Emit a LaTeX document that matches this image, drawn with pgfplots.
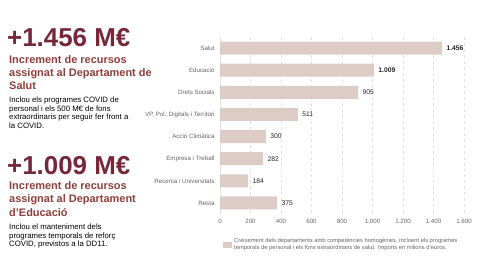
\documentclass[border=0pt]{standalone}
\usepackage{pgfplots}
\pgfplotsset{compat=1.18}
\usepackage{fontspec}
\setmainfont{Liberation Sans}
\definecolor{bignum}{RGB}{118,40,58}
\definecolor{subt}{RGB}{145,62,58}
\definecolor{barc}{RGB}{221,204,197}
\definecolor{tickc}{RGB}{100,100,100}
\definecolor{gridc}{RGB}{225,225,225}
\begin{document}
\begin{tikzpicture}
\useasboundingbox (0bp,0bp) rectangle (480bp,270bp);
% Block 1
\node[anchor=base west,inner sep=0,text=bignum,font=\fontsize{26}{28}\selectfont\bfseries] at (7bp,223bp) {+1.456 M€};
\begin{scope}[every node/.style={anchor=base west,inner sep=0,text=subt,font=\fontsize{11}{13}\selectfont\bfseries}]
\node at (9bp,206bp) {Increment de recursos};
\node at (9bp,193bp) {assignat al Departament de};
\node at (9bp,180bp) {Salut};
\end{scope}
\begin{scope}[every node/.style={anchor=base west,inner sep=0,font=\fontsize{7.8}{9}\selectfont}]
\node at (9bp,167bp) {Inclou els programes COVID de};
\node at (9bp,158.5bp) {personal i els 500 M€ de fons};
\node at (9bp,150bp) {extraordinaris per seguir fer front a};
\node at (9bp,141.5bp) {la COVID.};
\end{scope}
% Block 2
\node[anchor=base west,inner sep=0,text=bignum,font=\fontsize{26}{28}\selectfont\bfseries] at (7bp,95bp) {+1.009 M€};
\begin{scope}[every node/.style={anchor=base west,inner sep=0,text=subt,font=\fontsize{11}{13}\selectfont\bfseries}]
\node at (9bp,80bp) {Increment de recursos};
\node at (9bp,67bp) {assignat al Departament};
\node at (9bp,53.5bp) {d’Educació};
\end{scope}
\begin{scope}[every node/.style={anchor=base west,inner sep=0,font=\fontsize{7.8}{9}\selectfont}]
\node at (9bp,40bp) {Inclou el manteniment dels};
\node at (9bp,32bp) {programes temporals de reforç};
\node at (9bp,24bp) {COVID, previstos a la DD11.};
\end{scope}
\begin{axis}[
  at={(220bp,56bp)}, anchor=south west,
  scale only axis, width=244bp, height=177bp,
  xmin=0, xmax=1600, ymin=-0.5, ymax=7.5,
  y dir=reverse,
  xbar, bar width=13bp,
  axis lines*=left,
  x axis line style={draw=none},
  y axis line style={draw=gridc, line width=0.8pt},
  xtick={0,200,...,1600},
  xticklabels={0,200,400,600,800,1.000,1.200,1.400,1.600},
  ytick={0,...,7},
  yticklabels={Salut,Educació,Drets Socials,{VP, Pol. Digitals i Territori},Acció Climàtica,Empresa i Treball,Recerca i Universitats,Resta},
  major tick length=0pt,
  xmajorgrids, grid style={gridc, dashed, line width=0.4pt},
  tick label style={text=tickc, font=\fontsize{6.2}{7}\selectfont},
  /pgf/number format/assume math mode=true,
  xticklabel style={yshift=-2bp},
  yticklabel style={xshift=-2bp},
  clip=false,
  point meta=explicit symbolic,
  nodes near coords,
  nodes near coords style={font=\fontsize{6.8}{7}\selectfont, text=black!85, anchor=west, xshift=1bp},
  legend style={at={(0.0,-0.175)}, anchor=west, draw=none, fill=none, font=\fontsize{5.8}{7}\selectfont, text=tickc, cells={align=left}},
  legend image code/.code={\fill[barc] (0bp,-3bp) rectangle (9bp,3bp);},
]
\addplot[fill=barc, draw=none] coordinates {
 (1456,0) [\textbf{1.456}]
 (1009,1) [\textbf{1.009}]
 (905,2) [905]
 (511,3) [511]
 (300,4) [300]
 (282,5) [282]
 (184,6) [184]
 (375,7) [375]
};
\addlegendentry{Creixement dels departaments amb competències homogènies, incloent els programes\\temporals de personal i els fons extraordinaris de salut. Imports en milions d'euros.}
\end{axis}
\end{tikzpicture}
\end{document}
